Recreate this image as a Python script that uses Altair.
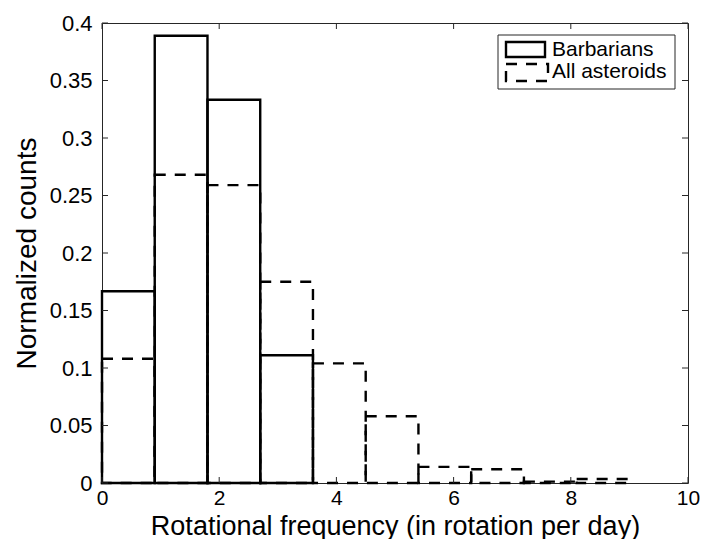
import altair as alt
import pandas as pd

# ---- data ----
bin_width = 0.9
barb_left = [0.0, 0.9, 1.8, 2.7]
barb_vals = [0.1667, 0.3889, 0.3333, 0.1111]
ast_left = [0.0, 0.9, 1.8, 2.7, 3.6, 4.5, 5.4, 6.3, 7.2, 8.1]
ast_vals = [0.108, 0.268, 0.259, 0.175, 0.104, 0.058, 0.014, 0.012, 0.0012, 0.0035]
x_ticks = [0, 2, 4, 6, 8, 10]
y_ticks = [0, 0.05, 0.1, 0.15, 0.2, 0.25, 0.3, 0.35, 0.4]
legend_labels = ["Barbarians", "All asteroids"]

W, H = 586, 460
FONT = "Liberation Sans"

barb = pd.DataFrame({"x0": barb_left,
                     "x1": [v + bin_width for v in barb_left],
                     "y": barb_vals})
ast = pd.DataFrame({"x0": ast_left,
                    "x1": [v + bin_width for v in ast_left],
                    "y": ast_vals})
xt = pd.DataFrame({"v": x_ticks})
yt = pd.DataFrame({"v": y_ticks})

xscale = alt.Scale(domain=[0, 10], nice=False, zero=False)
yscale = alt.Scale(domain=[0, 0.4], nice=False)

xaxis = alt.Axis(values=x_ticks, ticks=False, tickSize=0, domain=False, grid=False,
                 labelFontSize=21, titleFontSize=27, labelFont=FONT, titleFont=FONT,
                 labelColor="black", titleColor="black", labelPadding=4,
                 titleY=51, titleBaseline="alphabetic",
                 labelFlush=False, format="d", titleFontWeight="normal")
yaxis = alt.Axis(values=y_ticks, ticks=False, tickSize=0, domain=False, grid=False,
                 labelFontSize=22, titleFontSize=28, labelFont=FONT, titleFont=FONT,
                 labelColor="black", titleColor="black", labelPadding=10,
                 titlePadding=8, labelFlush=False, format="~g", titleFontWeight="normal")

ast_layer = alt.Chart(ast).mark_rect(fill=None, fillOpacity=0, stroke="black",
                                     strokeWidth=2.4, strokeDash=[11, 9]).encode(
    x=alt.X("x0:Q", scale=xscale, axis=xaxis,
            title="Rotational frequency (in rotation per day)"),
    x2="x1:Q",
    y=alt.Y("y:Q", scale=yscale, axis=yaxis, title="Normalized counts"),
    y2=alt.datum(0),
)

barb_layer = alt.Chart(barb).mark_rect(fill=None, fillOpacity=0, stroke="black",
                                       strokeWidth=2.4).encode(
    x=alt.X("x0:Q", scale=xscale),
    x2="x1:Q",
    y=alt.Y("y:Q", scale=yscale),
    y2=alt.datum(0),
)

tick_style = dict(color="#262626", strokeWidth=1)
tb = alt.Chart(xt).mark_rule(**tick_style).encode(
    x=alt.X("v:Q", scale=xscale), y=alt.value(H), y2=alt.value(H - 6))
tt = alt.Chart(xt).mark_rule(**tick_style).encode(
    x=alt.X("v:Q", scale=xscale), y=alt.value(0), y2=alt.value(6))
tl = alt.Chart(yt).mark_rule(**tick_style).encode(
    y=alt.Y("v:Q", scale=yscale), x=alt.value(0), x2=alt.value(6))
tr = alt.Chart(yt).mark_rule(**tick_style).encode(
    y=alt.Y("v:Q", scale=yscale), x=alt.value(W), x2=alt.value(W - 6))

# ---- legend ----
one = pd.DataFrame({"a": [0]})
leg_box = alt.Chart(one).mark_rect(fill="white", stroke="#262626", strokeWidth=1).encode(
    x=alt.value(396), x2=alt.value(573), y=alt.value(12), y2=alt.value(66))
leg_s1 = alt.Chart(one).mark_rect(fill=None, fillOpacity=0, stroke="black",
                                  strokeWidth=2.4).encode(
    x=alt.value(404), x2=alt.value(443), y=alt.value(19), y2=alt.value(34))
leg_s2 = alt.Chart(one).mark_rect(fill=None, fillOpacity=0, stroke="black",
                                  strokeWidth=2.4, strokeDash=[11, 9]).encode(
    x=alt.value(404), x2=alt.value(446), y=alt.value(41), y2=alt.value(58))
leg_t = alt.Chart(pd.DataFrame({"label": legend_labels, "row": [26.5, 49]})).mark_text(
    align="left", baseline="middle", font=FONT, fontSize=21, color="black").encode(
    x=alt.value(450), y=alt.Y("row:Q", scale=None), text="label:N")

chart = alt.layer(ast_layer, barb_layer, tb, tt, tl, tr,
                  leg_box, leg_s1, leg_s2, leg_t).properties(
    width=W, height=H,
    autosize=alt.AutoSizeParams(type="none"),
    padding={"left": 102, "top": 23, "right": 31, "bottom": 56},
    background="white",
).configure_view(stroke="#262626", strokeWidth=1)

chart.save("out.html", embed_options={"renderer": "svg", "actions": False})
